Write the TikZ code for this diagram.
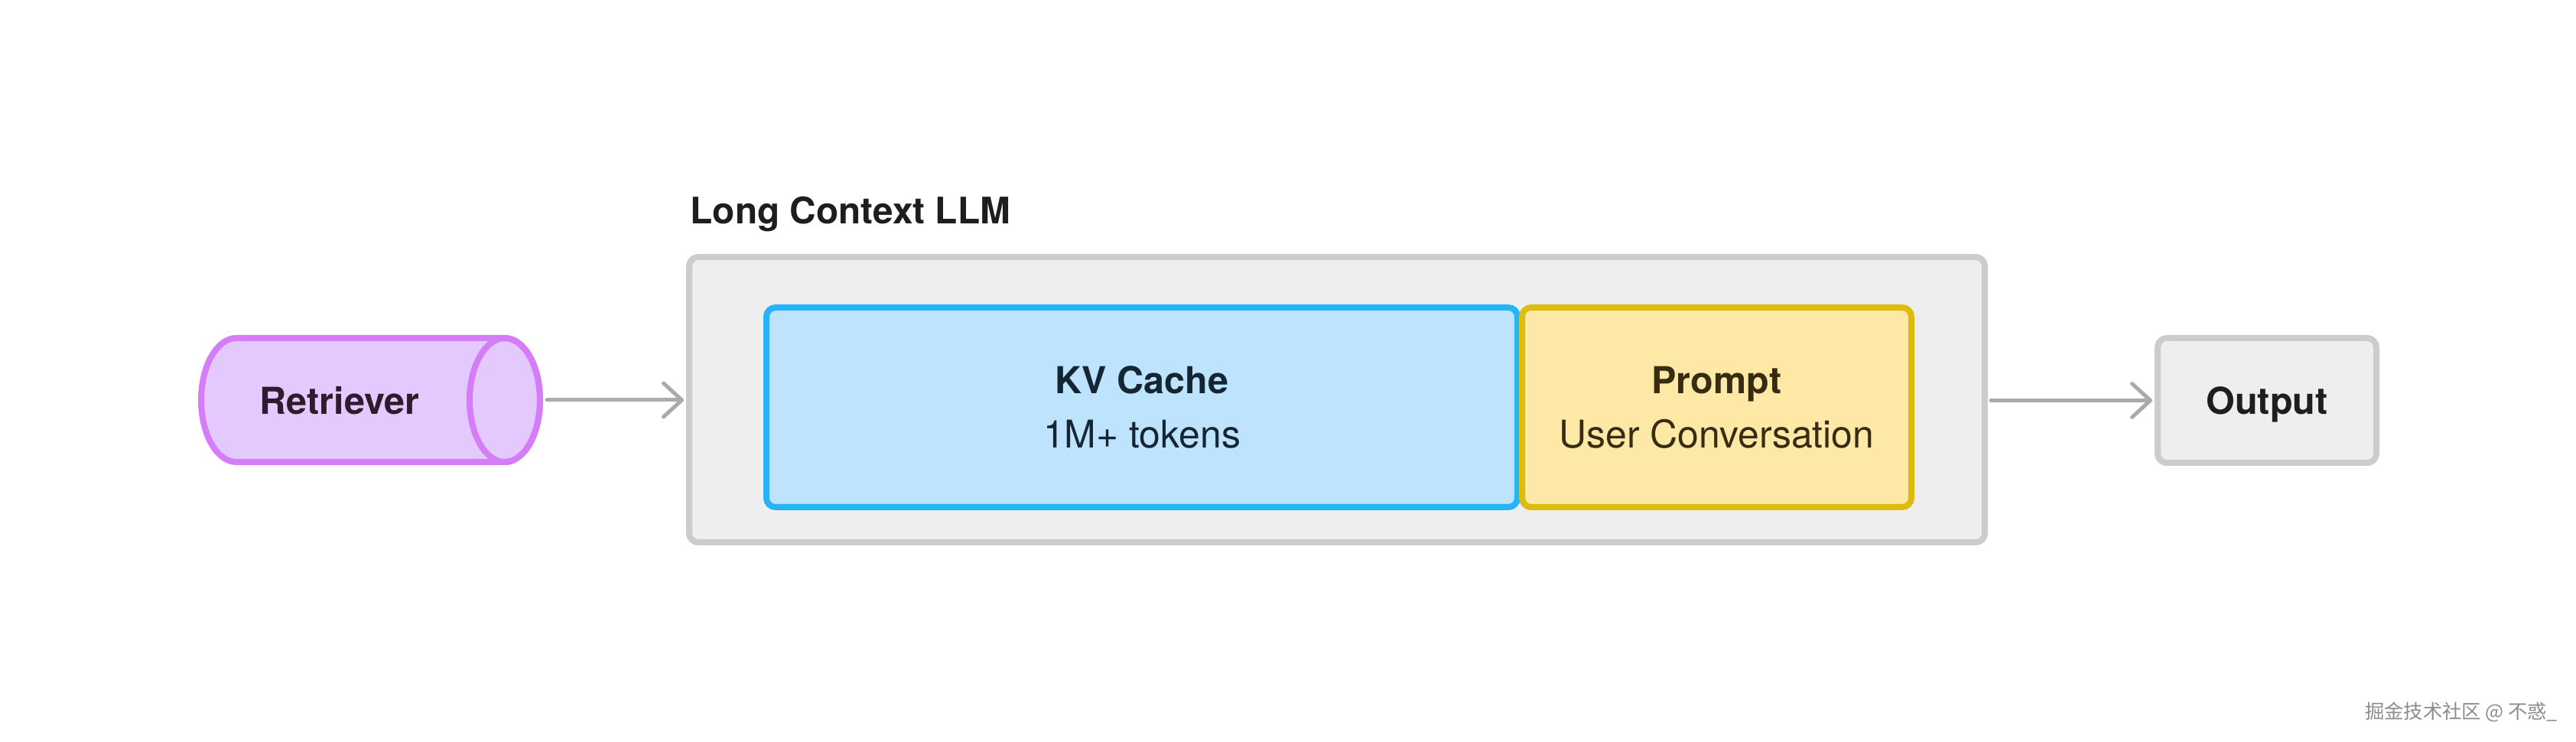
\documentclass[tikz,border=0pt]{standalone}
\usepackage{fontspec}
\setmainfont{TeX Gyre Heros}
\newfontfamily\cjkfont{Noto Sans CJK SC}
\usetikzlibrary{arrows.meta}
\definecolor{retfill}{RGB}{227,201,253}
\definecolor{retline}{RGB}{213,124,247}
\definecolor{rettext}{RGB}{44,28,46}
\definecolor{kvfill}{RGB}{190,227,252}
\definecolor{kvline}{RGB}{37,180,250}
\definecolor{kvtext}{RGB}{20,38,52}
\definecolor{promptfill}{RGB}{254,232,165}
\definecolor{promptline}{RGB}{222,188,12}
\definecolor{prompttext}{RGB}{54,44,18}
\definecolor{grayfill}{RGB}{238,238,238}
\definecolor{grayline}{RGB}{204,204,204}
\definecolor{arrowgray}{RGB}{170,170,170}
\definecolor{titletext}{RGB}{30,30,30}
\definecolor{credittext}{RGB}{140,140,140}
\newcommand{\headfont}{\fontsize{13.8}{20.2}\selectfont\bfseries}
\tikzset{
  box/.style     = { draw, line width=0.08cm, rounded corners=0.12cm, inner sep=0pt,
                     align=center, font=\fontsize{14.2}{20.2}\selectfont },
  graybox/.style = { box, draw=grayline, fill=grayfill, text=titletext },
  kvbox/.style   = { box, draw=kvline, fill=kvfill, text=kvtext },
  promptbox/.style = { box, draw=promptline, fill=promptfill, text=prompttext },
  store/.style   = { inner sep=0pt, outer sep=0pt },
  storeline/.style = { draw=retline, line width=0.08cm },
  flow/.style    = { draw=arrowgray, line width=0.05cm, line cap=round,
                     -{Straight Barb[length=0.24cm,width=0.44cm,round]} },
  title/.style   = { text=titletext, font=\fontsize{13.6}{16}\selectfont\bfseries, inner sep=0pt }
}

\begin{document}
\begin{tikzpicture}
    \useasboundingbox (0,0) rectangle (33.68,9.70);

    % retriever drawn as a lying cylinder
    \node[store, minimum width=4.43cm, minimum height=1.62cm] (ret) at (4.845,4.47) {};
    \path[storeline, fill=retfill]
        ([xshift=0.46cm]ret.north west) -- ([xshift=-0.46cm]ret.north east)
        arc[start angle=90, end angle=-90, x radius=0.46cm, y radius=0.81cm]
        -- ([xshift=0.46cm]ret.south west)
        arc[start angle=270, end angle=90, x radius=0.46cm, y radius=0.81cm] -- cycle;
    \draw[storeline] ([xshift=-0.46cm]ret.east) ellipse[x radius=0.46cm, y radius=0.81cm];
    \node[text=rettext, font=\headfont, text depth=0pt] (retlabel) at (4.44,4.47) {Retriever};

    \node[graybox, minimum width=16.94cm, minimum height=3.73cm] (llm) at (17.48,4.475) {};
    \node[title, anchor=base west] (llmtitle) at (9.02,6.77) {Long Context LLM};

    \node[kvbox, minimum width=9.82cm, minimum height=2.61cm] (kv) at (14.93,4.375)
        {{\headfont KV Cache}\\1M+ tokens};
    \node[promptbox, minimum width=5.09cm, minimum height=2.61cm] (prompt) at (22.445,4.375)
        {{\headfont Prompt}\\User Conversation};

    \node[graybox, minimum width=2.86cm, minimum height=1.63cm, font=\headfont, text depth=0pt]
        (out) at (29.64,4.465) {Output};

    \draw[flow, shorten <=0.09cm, shorten >=0.03cm] (ret.east) -- (ret.east -| llm.west);
    \draw[flow, shorten <=0.04cm, shorten >=0.03cm] (llm.east |- out.west) -- (out.west);

    \node[text=credittext, font=\fontsize{7.2}{9}\cjkfont, inner sep=0pt] (credit) at (32.18,0.39)
        {掘金技术社区 @ 不惑\_};
\end{tikzpicture}
\end{document}
